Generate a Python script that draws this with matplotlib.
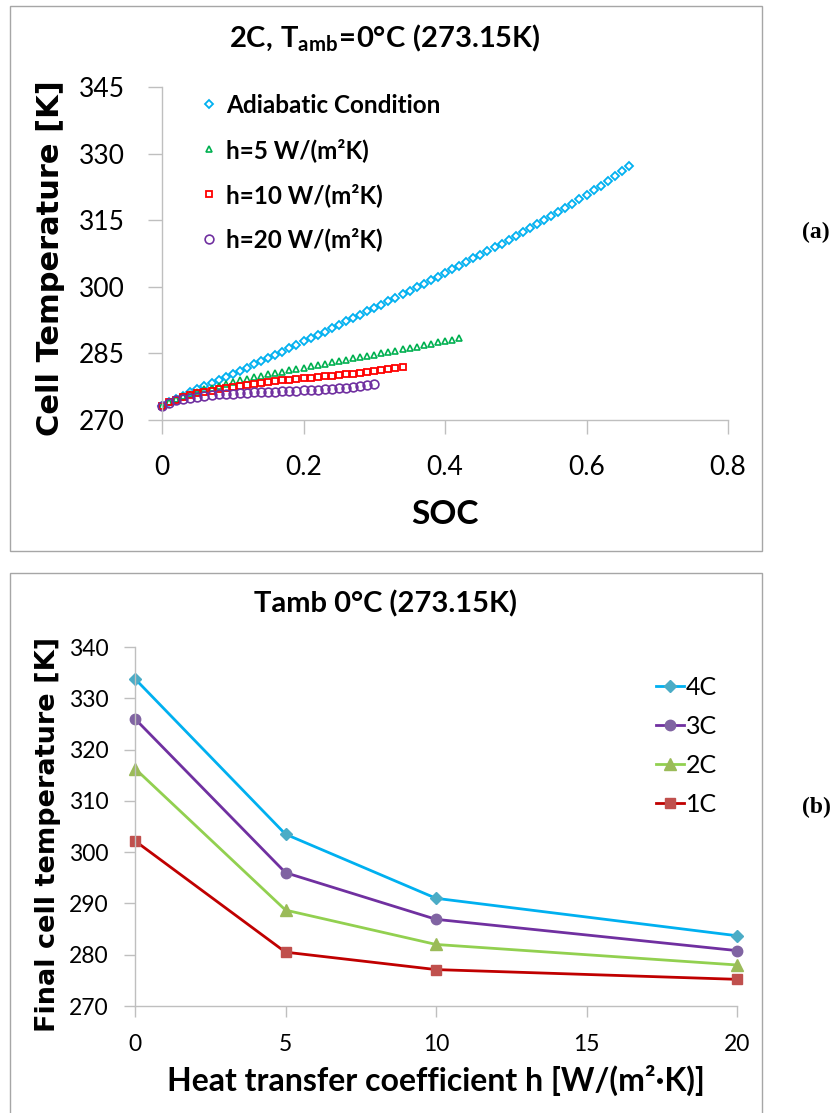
import matplotlib
matplotlib.use("Agg")
import matplotlib.pyplot as plt
from matplotlib.patches import Rectangle

plt.rcParams['font.family'] = ['Lato', 'DejaVu Sans']
plt.rcParams['mathtext.fontset'] = 'custom'
plt.rcParams['mathtext.rm'] = 'Lato:bold'
plt.rcParams['mathtext.it'] = 'Lato:bold'
plt.rcParams['mathtext.bf'] = 'Lato:bold'

# ---- panel (a): cell temperature vs SOC, 2C ----
soc = [0.00, 0.01, 0.02, 0.03, 0.04, 0.05, 0.06, 0.07, 0.08, 0.09,
       0.10, 0.11, 0.12, 0.13, 0.14, 0.15, 0.16, 0.17, 0.18, 0.19,
       0.20, 0.21, 0.22, 0.23, 0.24, 0.25, 0.26, 0.27, 0.28, 0.29,
       0.30, 0.31, 0.32, 0.33, 0.34, 0.35, 0.36, 0.37, 0.38, 0.39,
       0.40, 0.41, 0.42, 0.43, 0.44, 0.45, 0.46, 0.47, 0.48, 0.49,
       0.50, 0.51, 0.52, 0.53, 0.54, 0.55, 0.56, 0.57, 0.58, 0.59,
       0.60, 0.61, 0.62, 0.63, 0.64, 0.65, 0.66]

t_adiabatic = [273.15, 274.0, 274.8, 275.5, 276.2, 276.9, 277.6, 278.3, 279.0, 279.7,
               280.4, 281.1, 281.8, 282.5, 283.2, 284.0, 284.7, 285.4, 286.2, 286.9,
               287.7, 288.4, 289.2, 289.9, 290.7, 291.4, 292.2, 292.9, 293.7, 294.5,
               295.2, 296.0, 296.8, 297.5, 298.3, 299.1, 299.9, 300.7, 301.5, 302.3,
               303.1, 303.9, 304.7, 305.5, 306.4, 307.2, 308.0, 308.9, 309.7, 310.6,
               311.4, 312.3, 313.2, 314.1, 315.0, 315.9, 316.8, 317.7, 318.7, 319.7,
               320.7, 321.7, 322.7, 323.8, 324.9, 326.0, 327.2]

t_h5 = [273.15, 274.0, 274.7, 275.3, 275.9, 276.4, 276.9, 277.3, 277.7, 278.2,
        278.6, 279.0, 279.3, 279.6, 280.0, 280.3, 280.6, 280.9, 281.2, 281.5,
        281.8, 282.1, 282.4, 282.7, 283.0, 283.3, 283.6, 283.9, 284.2, 284.5,
        284.7, 285.0, 285.3, 285.6, 285.9, 286.2, 286.5, 286.8, 287.1, 287.5,
        287.8, 288.1, 288.5]

t_h10 = [273.15, 274.0, 274.6, 275.1, 275.6, 276.0, 276.3, 276.6, 276.9, 277.2,
         277.5, 277.7, 277.9, 278.1, 278.3, 278.5, 278.7, 278.9, 279.0, 279.2,
         279.35, 279.5, 279.65, 279.8, 279.95, 280.1, 280.25, 280.4, 280.6, 280.8,
         281.0, 281.2, 281.4, 281.65, 281.9]

t_h20 = [273.15, 273.9, 274.4, 274.75, 275.0, 275.25, 275.45, 275.6, 275.75, 275.85,
         275.95, 276.05, 276.1, 276.2, 276.25, 276.3, 276.4, 276.45, 276.55, 276.6,
         276.7, 276.8, 276.85, 276.95, 277.05, 277.15, 277.3, 277.45, 277.6, 277.85,
         278.1]

a_labels = ['Adiabatic Condition', 'h=5 W/(m²K)', 'h=10 W/(m²K)', 'h=20 W/(m²K)']

# ---- panel (b): final temperature vs heat transfer coefficient ----
h_vals = [0, 5, 10, 20]
final_4c = [333.8, 303.5, 291.0, 283.7]
final_3c = [326.0, 296.0, 286.9, 280.8]
final_2c = [316.3, 288.7, 282.0, 278.0]
final_1c = [302.2, 280.5, 277.1, 275.2]
b_labels = ['4C', '3C', '2C', '1C']

W, H = 839, 1113
fig = plt.figure(figsize=(W / 100, H / 100), dpi=100)
fig.patch.set_facecolor('white')

def fx(px):
    return px / W

def fy(py):
    return 1 - py / H

AXIS_GREY = '#BFBFBF'

# panel frames
fig.add_artist(Rectangle((fx(10), fy(551)), fx(752), 545 / H, transform=fig.transFigure,
                         fill=False, edgecolor='#A6A6A6', lw=1.0))
fig.add_artist(Rectangle((fx(10), -0.01), fx(752), fy(573) + 0.01, transform=fig.transFigure,
                         fill=False, edgecolor='#A6A6A6', lw=1.0))


def style_axes(ax):
    for s in ['top', 'right']:
        ax.spines[s].set_visible(False)
    for s in ['left', 'bottom']:
        ax.spines[s].set_color(AXIS_GREY)
        ax.spines[s].set_linewidth(1.0)


# ---------------- (a) ----------------
ax1 = fig.add_axes([fx(162), fy(420), fx(728 - 162), (420 - 87) / H])
style_axes(ax1)
mk = dict(ls='none', mfc='none', clip_on=False)
ax1.plot(soc, t_adiabatic, marker='D', ms=4.2, mew=1.3, mec='#00B0F0', label=a_labels[0], **mk)
ax1.plot(soc[:len(t_h5)], t_h5, marker='^', ms=5, mew=1.2, mec='#00B050', label=a_labels[1], **mk)
ax1.plot(soc[:len(t_h10)], t_h10, marker='s', ms=4.2, mew=1.3, mec='#FF0000', label=a_labels[2], **mk)
ax1.plot(soc[:len(t_h20)], t_h20, marker='o', ms=6.3, mew=1.2, mec='#7030A0', label=a_labels[3], **mk)
ax1.set_xlim(0, 0.8)
ax1.set_ylim(270, 345)
ax1.set_xticks([0, 0.2, 0.4, 0.6, 0.8])
ax1.set_xticklabels(['0', '0.2', '0.4', '0.6', '0.8'])
ax1.set_yticks([270, 285, 300, 315, 330, 345])
ax1.tick_params(axis='both', direction='out', length=10, width=1, color=AXIS_GREY, labelsize=19)
ax1.tick_params(axis='y', pad=17)
ax1.tick_params(axis='x', pad=15)
ax1.legend(loc='upper left', bbox_to_anchor=(fx(202), fy(94)), bbox_transform=fig.transFigure,
           frameon=False, borderpad=0, borderaxespad=0, handlelength=0.6, handletextpad=0.4,
           labelspacing=0.86, numpoints=1, prop={'weight': 'bold', 'size': 17.5})

fig.text(fx(385), fy(38), r'$\mathrm{2C{,}\ T_{amb}\!=\!0°C\ (273.15K)}$', ha='center', va='center',
         fontsize=21)
fig.text(fx(445), fy(514), 'SOC', ha='center', va='center', fontsize=24, fontweight='bold')
fig.text(fx(51), fy(258), 'Cell Temperature [K]', ha='center', va='center', rotation=90,
         fontsize=22, fontweight='bold', family='DejaVu Sans')
fig.text(fx(816), fy(232), '(a)', ha='center', va='center', fontsize=17, fontweight='bold',
         family='Liberation Serif')

# ---------------- (b) ----------------
ax2 = fig.add_axes([fx(135), fy(1006), fx(737 - 135), (1006 - 647) / H])
style_axes(ax2)
series = [
    (final_4c, '#00B0F0', '#4BACC6', 'D', 6.5),
    (final_3c, '#7030A0', '#8064A2', 'o', 7.5),
    (final_2c, '#92D050', '#9BBB59', '^', 8),
    (final_1c, '#C00000', '#C0504D', 's', 7),
]
for (vals, lc, mc, m, ms), lab in zip(series, b_labels):
    ax2.plot(h_vals, vals, color=lc, lw=2, marker=m, ms=ms, mfc=mc, mec=mc, label=lab, clip_on=False)
ax2.set_xlim(0, 20)
ax2.set_ylim(270, 340)
ax2.set_xticks([0, 5, 10, 15, 20])
ax2.set_yticks(range(270, 341, 10))
ax2.tick_params(axis='both', direction='out', length=8, width=1, color=AXIS_GREY, labelsize=16.5)
ax2.tick_params(axis='y', pad=11)
ax2.tick_params(axis='x', pad=12)
ax2.legend(loc='upper left', bbox_to_anchor=(fx(656), fy(676)), bbox_transform=fig.transFigure,
           frameon=False, borderpad=0, borderaxespad=0, handlelength=1.1, handletextpad=0.1,
           labelspacing=0.64, numpoints=1, prop={'size': 18})

fig.text(fx(386), fy(604), 'Tamb 0°C (273.15K)', ha='center', va='center', fontsize=21, fontweight='bold')
fig.text(fx(436), fy(1080), 'Heat transfer coefficient h [W/(m²·K)]', ha='center', va='center',
         fontsize=23, fontweight='bold')
fig.text(fx(48), fy(834), 'Final cell temperature [K]', ha='center', va='center', rotation=90,
         fontsize=19.5, fontweight='bold', family='DejaVu Sans')
fig.text(fx(816), fy(807), '(b)', ha='center', va='center', fontsize=17, fontweight='bold',
         family='Liberation Serif')

fig.savefig('out.png', dpi=100, facecolor='white')
